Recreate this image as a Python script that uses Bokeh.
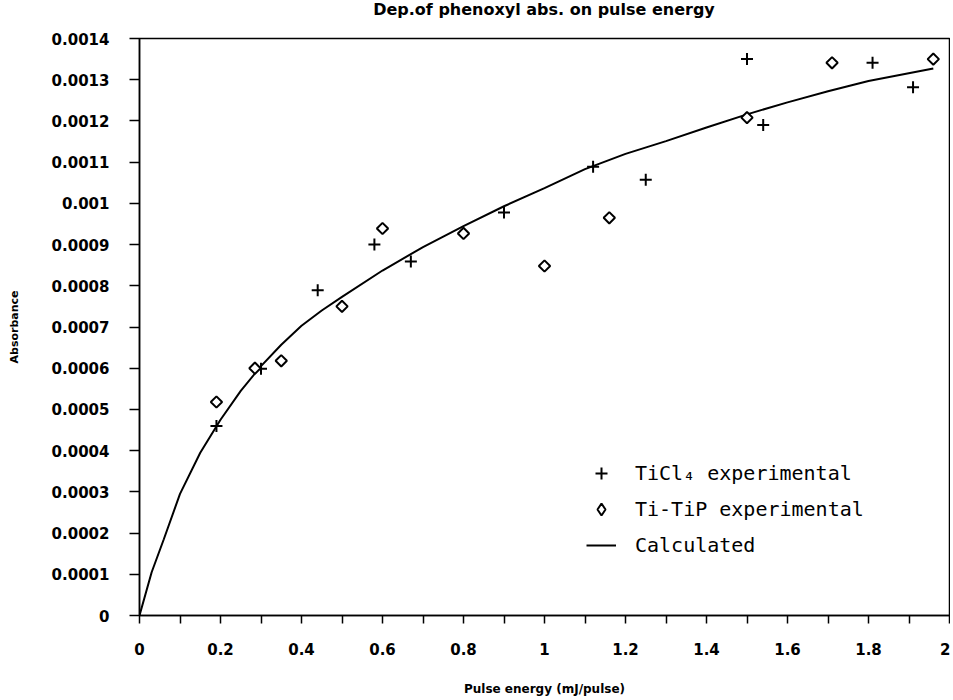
from bokeh.plotting import figure
from bokeh.models import FixedTicker, Legend, LegendItem, Range1d, Div
from bokeh.layouts import column
from bokeh.embed import file_html
from bokeh.resources import INLINE

# ---- data ----
ticl4_x = [0.19, 0.30, 0.44, 0.58, 0.67, 0.90, 1.12, 1.25, 1.50, 1.54, 1.81, 1.91]
ticl4_y = [0.00046, 0.000599, 0.000789, 0.00090, 0.000859, 0.000978, 0.001089, 0.001057,
           0.00135, 0.00119, 0.001341, 0.001282]

titip_x = [0.19, 0.285, 0.35, 0.50, 0.60, 0.80, 1.00, 1.16, 1.50, 1.71, 1.96]
titip_y = [0.000518, 0.000600, 0.000618, 0.000750, 0.000939, 0.000927, 0.000848, 0.000965,
           0.001208, 0.001341, 0.00135]

calc_x = [0, 0.03, 0.06, 0.10, 0.15, 0.20, 0.25, 0.30, 0.35, 0.40, 0.45, 0.50, 0.60, 0.70,
          0.80, 0.90, 1.00, 1.10, 1.20, 1.30, 1.40, 1.50, 1.60, 1.70, 1.80, 1.96]
calc_y = [0, 0.000105, 0.000185, 0.000295, 0.000395, 0.000475, 0.000545, 0.000605, 0.000657,
          0.000703, 0.000740, 0.000773, 0.000837, 0.000894, 0.000945, 0.000993, 0.001037,
          0.001083, 0.001120, 0.001151, 0.001184, 0.001216, 0.001245, 0.001272, 0.001297,
          0.001327]

x_ticks = [0, 0.2, 0.4, 0.6, 0.8, 1.0, 1.2, 1.4, 1.6, 1.8, 2.0]
x_tick_labels = ["0", "0.2", "0.4", "0.6", "0.8", "1", "1.2", "1.4", "1.6", "1.8", "2"]
x_minor = [0.1, 0.3, 0.5, 0.7, 0.9, 1.1, 1.3, 1.5, 1.7, 1.9]
y_ticks = [0, 0.0001, 0.0002, 0.0003, 0.0004, 0.0005, 0.0006, 0.0007, 0.0008, 0.0009,
           0.001, 0.0011, 0.0012, 0.0013, 0.0014]
y_tick_labels = ["0", "0.0001", "0.0002", "0.0003", "0.0004", "0.0005", "0.0006", "0.0007",
                 "0.0008", "0.0009", "0.001", "0.0011", "0.0012", "0.0013", "0.0014"]

title_text = "Dep.of phenoxyl abs. on pulse energy"
x_label = "Pulse energy (mJ/pulse)"
y_label = "Absorbance"
legend_labels = ["TiCl\u2084 experimental", "Ti-TiP experimental", "Calculated"]

BOLD = "DejaVu Sans"
W = 950
TITLE_H = 20
H = 698 - TITLE_H
BL, BR, BT, BB = 139, 1, 18, 80
FW = W - BL - BR

title_div = Div(text=title_text, width=FW, height=TITLE_H, margin=(0, 0, 0, BL),
                styles={"text-align": "center", "font-family": BOLD, "font-weight": "bold",
                        "font-size": "16px", "line-height": "20px", "color": "black"})

p = figure(width=W, height=H, output_backend="svg", toolbar_location=None,
           x_range=Range1d(0, 2), y_range=Range1d(0, 0.0014),
           min_border_left=BL, min_border_right=BR, min_border_top=BT, min_border_bottom=BB)
p.title.text = ""
p.title.standoff = 0
p.margin = (0, 0, 0, 0)

p.grid.visible = False
p.outline_line_color = "black"
p.outline_line_width = 1.5
p.background_fill_color = "white"

xa = p.xaxis[0]
xa.ticker = FixedTicker(ticks=x_ticks, minor_ticks=x_minor)
xa.major_label_overrides = {t: l for t, l in zip(x_ticks, x_tick_labels)}
xa.axis_label = x_label
for ax in p.axis:
    ax.axis_line_color = "black"
    ax.axis_line_width = 1.5
    ax.major_tick_line_color = "black"
    ax.major_tick_line_width = 1.5
    ax.minor_tick_line_color = "black"
    ax.minor_tick_line_width = 1.5
    ax.major_tick_in = 0
    ax.minor_tick_in = 0
    ax.major_label_text_font = BOLD
    ax.major_label_text_font_style = "bold"
    ax.major_label_text_font_size = "15px"
    ax.major_label_text_color = "black"
    ax.axis_label_text_font = BOLD
    ax.axis_label_text_font_style = "bold"
    ax.axis_label_text_color = "black"
xa.axis_label_text_font_size = "12px"
xa.major_tick_out = 8
xa.minor_tick_out = 8
xa.major_label_standoff = 19
xa.axis_label_standoff = 24

ya = p.yaxis[0]
ya.ticker = FixedTicker(ticks=y_ticks, minor_ticks=[])
ya.major_label_overrides = {t: l for t, l in zip(y_ticks, y_tick_labels)}
ya.axis_label = y_label
ya.axis_label_text_font_size = "11px"
ya.major_tick_out = 10
ya.minor_tick_out = 0
ya.major_label_standoff = 20
ya.axis_label_standoff = 28

r_line = p.line(calc_x, calc_y, line_color="black", line_width=2)
r_plus = p.scatter(ticl4_x, ticl4_y, marker="cross", size=12, line_color="black", line_width=2)
r_diam = p.scatter(titip_x, titip_y, marker="square", angle=0.785398, size=8,
                   line_color="black", line_width=2, fill_color="white")
# hidden twin of the Ti-TiP series, used only so the legend key is drawn as a diamond
r_diam_key = p.scatter(titip_x, titip_y, marker="diamond", size=14,
                       line_color="black", line_width=2, fill_color="white", visible=False)

legend = Legend(items=[LegendItem(label=legend_labels[0], renderers=[r_plus]),
                       LegendItem(label=legend_labels[1], renderers=[r_diam_key]),
                       LegendItem(label=legend_labels[2], renderers=[r_line])],
                location=(447, 55))
legend.border_line_alpha = 0
legend.background_fill_alpha = 0
legend.inactive_fill_alpha = 0
legend.padding = 0
legend.margin = 0
legend.glyph_width = 30
legend.glyph_height = 30
legend.label_height = 30
legend.spacing = 6
legend.label_standoff = 19
legend.label_text_font = "DejaVu Sans Mono"
legend.label_text_font_size = "20px"
legend.label_text_color = "black"
p.add_layout(legend, "center")

layout = column(title_div, p, spacing=0)
open("out.html", "w").write(file_html(layout, INLINE))
